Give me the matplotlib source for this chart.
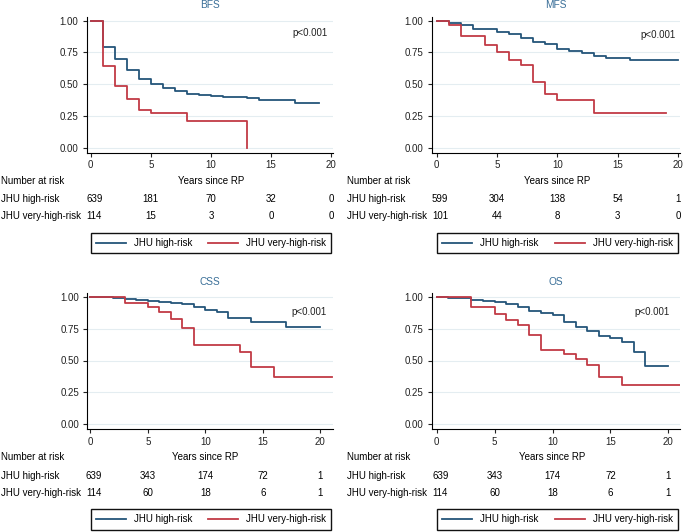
import matplotlib
matplotlib.use("Agg")
import matplotlib.pyplot as plt
import matplotlib.transforms as mtransforms
from matplotlib.lines import Line2D

plt.rcParams['font.family'] = ['Liberation Sans', 'DejaVu Sans']

W, H = 685, 532
BLUE = "#24557a"
RED = "#c13a45"
TITLE_C = "#3a6f98"
GRID_C = "#e4edf1"
FS = 7.0

groups = ["JHU high-risk", "JHU very-high-risk"]
risk_years = [0, 5, 10, 15, 20]

# BFS
bfs_hi_t = [0, 1, 2, 3, 4, 5, 6, 7, 8, 9, 10, 11, 13, 14, 17, 19]
bfs_hi_s = [1, 0.795, 0.698, 0.61, 0.54, 0.505, 0.47, 0.45, 0.425, 0.415, 0.41, 0.398, 0.388, 0.372, 0.35, 0.35]
bfs_vh_t = [0, 1, 2, 3, 4, 5, 8, 13]
bfs_vh_s = [1, 0.64, 0.486, 0.386, 0.297, 0.277, 0.21, 0.0]
bfs_risk_hi = [639, 181, 70, 32, 0]
bfs_risk_vh = [114, 15, 3, 0, 0]

# MFS
mfs_hi_t = [0, 1, 2, 3, 5, 6, 7, 8, 9, 10, 11, 12, 13, 14, 16, 20]
mfs_hi_s = [1, 0.984, 0.968, 0.937, 0.913, 0.895, 0.866, 0.835, 0.814, 0.78, 0.76, 0.743, 0.72, 0.706, 0.693, 0.693]
mfs_vh_t = [0, 1, 2, 4, 5, 6, 7, 8, 9, 10, 13, 19]
mfs_vh_s = [1, 0.966, 0.882, 0.808, 0.756, 0.688, 0.648, 0.52, 0.423, 0.373, 0.273, 0.273]
mfs_risk_hi = [599, 304, 138, 54, 1]
mfs_risk_vh = [101, 44, 8, 3, 0]

# CSS
css_hi_t = [0, 2, 3, 4, 5, 6, 7, 8, 9, 10, 11, 12, 14, 17, 20]
css_hi_s = [1, 0.992, 0.984, 0.976, 0.969, 0.958, 0.95, 0.94, 0.92, 0.893, 0.877, 0.83, 0.799, 0.76, 0.76]
css_vh_t = [0, 3, 5, 6, 7, 8, 9, 13, 14, 16, 21]
css_vh_s = [1, 0.953, 0.922, 0.88, 0.828, 0.752, 0.621, 0.569, 0.446, 0.371, 0.371]
css_risk_hi = [639, 343, 174, 72, 1]
css_risk_vh = [114, 60, 18, 6, 1]

# OS
os_hi_t = [0, 1, 2, 3, 4, 5, 6, 7, 8, 9, 10, 11, 12, 13, 14, 15, 16, 17, 18, 20]
os_hi_s = [1, 0.992, 0.987, 0.977, 0.966, 0.958, 0.94, 0.916, 0.885, 0.875, 0.854, 0.80, 0.76, 0.728, 0.69, 0.674, 0.642, 0.57, 0.457, 0.457]
os_vh_t = [0, 3, 5, 6, 7, 8, 9, 11, 12, 13, 14, 16, 21]
os_vh_s = [1, 0.922, 0.864, 0.817, 0.778, 0.70, 0.58, 0.551, 0.509, 0.467, 0.368, 0.305, 0.305]
os_risk_hi = [639, 343, 174, 72, 1]
os_risk_vh = [114, 60, 18, 6, 1]

fig = plt.figure(figsize=(W / 100, H / 100), dpi=100)


def fy(y):
    return 1 - y / H


def panel(title, title_px, x0px, ppy, xlim, y1px, y0px, hi, vh, risk_hi, risk_vh, ptxt, rows_px, leg_px):
    # x0px: pixel of year 0, ppy: pixels per year, y1px/y0px: pixel of surv 1 and 0
    ppu = y0px - y1px
    ylim = (-0.04, 1.03)
    left = x0px + xlim[0] * ppy
    right = x0px + xlim[1] * ppy
    top = y1px - (ylim[1] - 1) * ppu
    bottom = y0px - ylim[0] * ppu
    ax = fig.add_axes([left / W, fy(bottom), (right - left) / W, (bottom - top) / H])
    ax.set_xlim(*xlim)
    ax.set_ylim(*ylim)

    ax.step(hi[0], hi[1], where="post", color=BLUE, lw=1.3)
    ax.step(vh[0], vh[1], where="post", color=RED, lw=1.3)

    ax.set_yticks([0, 0.25, 0.5, 0.75, 1.0])
    ax.set_yticklabels(["0.00", "0.25", "0.50", "0.75", "1.00"])
    ax.set_xticks(risk_years)
    ax.yaxis.grid(True, color=GRID_C, lw=0.8)
    ax.set_axisbelow(True)
    for s in ["top", "right"]:
        ax.spines[s].set_visible(False)
    for s in ["left", "bottom"]:
        ax.spines[s].set_linewidth(0.8)
    ax.tick_params(direction="out", length=3, width=0.8, labelsize=FS, colors="#222222")
    ax.tick_params(axis="y", pad=3.0)
    ax.tick_params(axis="x", pad=2.2)

    trans = mtransforms.blended_transform_factory(ax.transAxes, fig.transFigure)
    ax.text(0.5, fy(title_px), title, transform=trans, ha="center", va="center",
            fontsize=FS + 0.3, color=TITLE_C)
    ax.text(ptxt[0], ptxt[1], "p<0.001", ha="right", va="center", fontsize=FS, color="#222222")

    # number at risk table
    tx = mtransforms.blended_transform_factory(ax.transData, fig.transFigure)
    tx_first = tx + mtransforms.ScaledTranslation(3.5 / 100, 0, fig.dpi_scale_trans)
    label_x = (x0px - 89.7) / W
    fig.text(label_x, fy(rows_px[0]), "Number at risk", ha="left", va="center", fontsize=FS)
    ax.text(10, fy(rows_px[0]), "Years since RP", transform=tx, ha="center", va="center", fontsize=FS)
    for r, (name, vals) in enumerate(zip(groups, [risk_hi, risk_vh])):
        fig.text(label_x, fy(rows_px[r + 1]), name, ha="left", va="center", fontsize=FS)
        for yr, v in zip(risk_years, vals):
            ax.text(yr, fy(rows_px[r + 1]), str(v), transform=tx_first if yr == 0 else tx,
                    ha="center", va="center", fontsize=FS, clip_on=False)

    handles = [Line2D([], [], color=BLUE, lw=1.3), Line2D([], [], color=RED, lw=1.3)]
    lx0, ly0, lx1, ly1 = leg_px
    leg = fig.legend(handles, groups, loc="center", ncol=2, mode="expand",
                     bbox_to_anchor=(lx0 / W, fy(ly1), (lx1 - lx0) / W, (ly1 - ly0) / H),
                     fontsize=FS, handlelength=3.1, handletextpad=0.8, columnspacing=0.8,
                     borderpad=0.55, borderaxespad=0, fancybox=False, framealpha=1,
                     edgecolor="#111111")
    leg.get_frame().set_linewidth(1.0)
    return ax


panel("BFS", 5.5, 90.7, 12.02, (-0.33, 20.15), 20.7, 147.7,
      (bfs_hi_t, bfs_hi_s), (bfs_vh_t, bfs_vh_s), bfs_risk_hi, bfs_risk_vh,
      (19.7, 0.90), (181.5, 199, 216), (90.5, 232.5, 331, 253.5))
panel("MFS", 5.5, 436.7, 12.07, (-0.41, 20.15), 20.7, 147.7,
      (mfs_hi_t, mfs_hi_s), (mfs_vh_t, mfs_vh_s), mfs_risk_hi, mfs_risk_vh,
      (19.8, 0.887), (181.5, 199, 216), (437, 232.5, 678, 253.5))
panel("CSS", 282, 90.3, 11.5, (-0.26, 21.1), 296.7, 424.3,
      (css_hi_t, css_hi_s), (css_vh_t, css_vh_s), css_risk_hi, css_risk_vh,
      (20.55, 0.878), (457, 476, 493), (90.5, 508.5, 331, 530.5))
panel("OS", 282, 436.7, 11.58, (-0.43, 21.0), 296.7, 424.3,
      (os_hi_t, os_hi_s), (os_vh_t, os_vh_s), os_risk_hi, os_risk_vh,
      (20.15, 0.878), (457, 476, 493), (437, 508.5, 678, 530.5))

fig.savefig("out.png", dpi=100)
